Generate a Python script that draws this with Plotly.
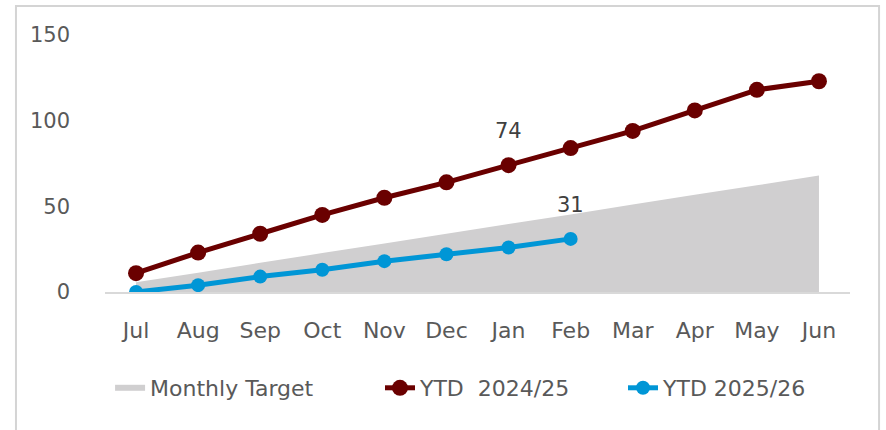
import plotly.graph_objects as go

months = ["Jul", "Aug", "Sep", "Oct", "Nov", "Dec", "Jan", "Feb", "Mar", "Apr", "May", "Jun"]
monthly_target = [5.7, 11.3, 17.0, 22.7, 28.3, 34.0, 39.7, 45.3, 51.0, 56.7, 62.3, 68.0]
ytd_2024_25 = [11, 23, 34, 45, 55, 64, 74, 84, 94, 106, 118, 123]
ytd_2025_26 = [0, 4, 9, 13, 18, 22, 26, 31]
y_ticks = [0, 50, 100, 150]

RED = "#6a0000"
BLUE = "#0096d6"
GREY = "#d0cfd0"
FONT = "DejaVu Sans"
TXT = "#595959"

fig = go.Figure()
fig.add_trace(go.Scatter(
    x=months, y=monthly_target, name="Monthly Target", mode="none",
    fill="tozeroy", fillcolor=GREY, line=dict(width=0), hoverinfo="skip",
    legend="legend"))
fig.add_trace(go.Scatter(
    x=months, y=ytd_2024_25, name="YTD  2024/25", mode="lines+markers",
    line=dict(color=RED, width=5), marker=dict(color=RED, size=16),
    legend="legend2"))
fig.add_trace(go.Scatter(
    x=months[:len(ytd_2025_26)], y=ytd_2025_26, name="YTD 2025/26", mode="lines+markers",
    line=dict(color=BLUE, width=5), marker=dict(color=BLUE, size=14),
    legend="legend3"))

# data labels
for series, idx in ((ytd_2024_25, 6), (ytd_2025_26, len(ytd_2025_26) - 1)):
    fig.add_annotation(x=months[idx], y=series[idx], text=str(series[idx]),
                       showarrow=False, yshift=34,
                       font=dict(family=FONT, size=21, color="#404040"))

# outer border
fig.add_shape(type="rect", xref="paper", yref="paper",
              x0=-0.1195, x1=1.039, y0=-0.6, y1=1.113,
              line=dict(color="#d4d4d4", width=2), fillcolor="rgba(0,0,0,0)", layer="below")

def leg(x):
    return dict(orientation="h", x=x, xanchor="left", y=-0.3735, yanchor="middle",
                font=dict(family=FONT, size=22, color=TXT),
                bgcolor="rgba(0,0,0,0)", borderwidth=0)

fig.update_layout(
    width=886, height=430,
    margin=dict(l=105, r=36, t=35, b=138),
    paper_bgcolor="white", plot_bgcolor="white",
    font=dict(family=FONT, size=22, color=TXT),
    showlegend=True,
    legend=leg(0.0068), legend2=leg(0.3691), legend3=leg(0.6953),
    xaxis=dict(type="category", range=[-0.5, 11.5], showgrid=False, zeroline=False,
               showline=True, linecolor="#d9d9d9", linewidth=2, ticks="",
               ticklabelstandoff=18, tickfont=dict(size=22, color=TXT), fixedrange=True),
    yaxis=dict(range=[0, 150], tickvals=y_ticks, showgrid=False, zeroline=False,
               showline=False, ticks="", ticklabelstandoff=34,
               tickfont=dict(size=21, color=TXT), fixedrange=True),
)

fig.write_html("out.html", config={"displayModeBar": False},
               post_script="document.body.style.margin='0';")
